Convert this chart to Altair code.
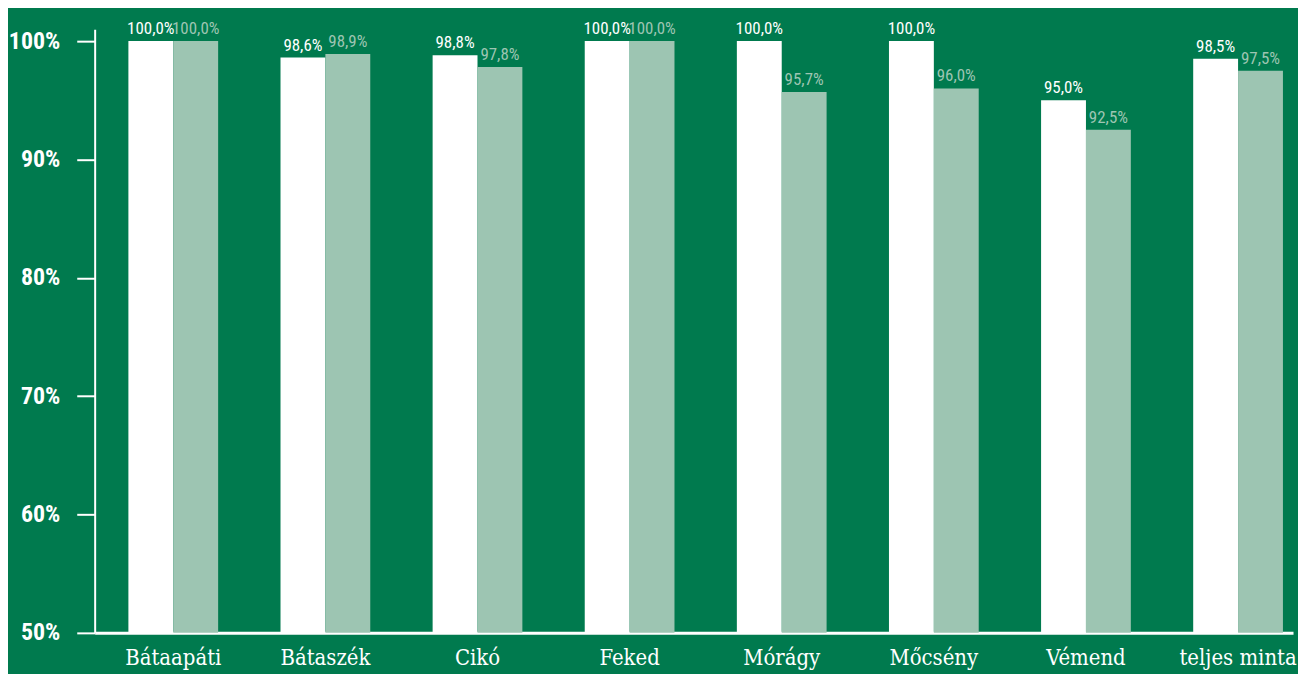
import altair as alt
import pandas as pd

categories = ["Bátaapáti", "Bátaszék", "Cikó", "Feked", "Mórágy", "Mőcsény", "Vémend", "teljes minta"]
series_a = [100.0, 98.6, 98.8, 100.0, 100.0, 100.0, 95.0, 98.5]
series_b = [100.0, 98.9, 97.8, 100.0, 95.7, 96.0, 92.5, 97.5]
series_names = ["A", "B"]
y_ticks = [50, 60, 70, 80, 90, 100]

rows = []
for c, a, b in zip(categories, series_a, series_b):
    rows.append({"cat": c, "series": series_names[0], "value": a})
    rows.append({"cat": c, "series": series_names[1], "value": b})
df = pd.DataFrame(rows)

BG = "#007A4E"
LIGHT = "#9DC5B2"
NARROW = "Roboto Condensed, Liberation Sans Narrow, DejaVu Sans Condensed, sans-serif"
SLAB = "DejaVu Serif Condensed, DejaVu Serif, Liberation Serif, serif"

x = alt.X(
    "cat:N", sort=categories, title=None,
    scale=alt.Scale(paddingInner=0.41, paddingOuter=0.144, align=0.77),
    axis=alt.Axis(labelAngle=0, ticks=False, domainColor="white", domainWidth=3,
                  labelFont=SLAB, labelFontSize=22, labelColor="white",
                  labelPadding=15),
)
xo = alt.XOffset("series:N", sort=series_names,
                 scale=alt.Scale(paddingInner=0, paddingOuter=0))
y = alt.Y(
    "value:Q", title=None,
    scale=alt.Scale(domain=[50, 101], zero=False, nice=False),
    axis=alt.Axis(values=y_ticks, labelExpr="datum.value + '%'", grid=False,
                  domainColor="white", domainWidth=2, tickColor="white", tickWidth=2,
                  tickSize=18, labelPadding=17, labelFont=NARROW, labelFontSize=24,
                  labelFontWeight="bold", labelColor="white"),
)
color = alt.Color("series:N", sort=series_names,
                  scale=alt.Scale(domain=series_names, range=["#FFFFFF", LIGHT]),
                  legend=None)

base = alt.Chart(df).encode(x=x, xOffset=xo, color=color)

bars = base.mark_bar(opacity=1).encode(y=y, y2=alt.datum(50))

labels = base.transform_calculate(
    label="replace(format(datum.value, '.1f'), '.', ',') + '%'"
).mark_text(baseline="alphabetic", dy=-7, font=NARROW, fontSize=17,
            fontWeight="normal").encode(
    y=y, text="label:N"
)

chart = alt.layer(bars, labels).properties(
    width=1203, height=606, background=BG,
    padding={"left": 87, "top": 20, "right": 5, "bottom": 40},
    autosize=alt.AutoSizeParams(type="none"),
).configure_view(strokeWidth=0)

chart.save("out.html", embed_options={"renderer": "svg", "actions": False})
